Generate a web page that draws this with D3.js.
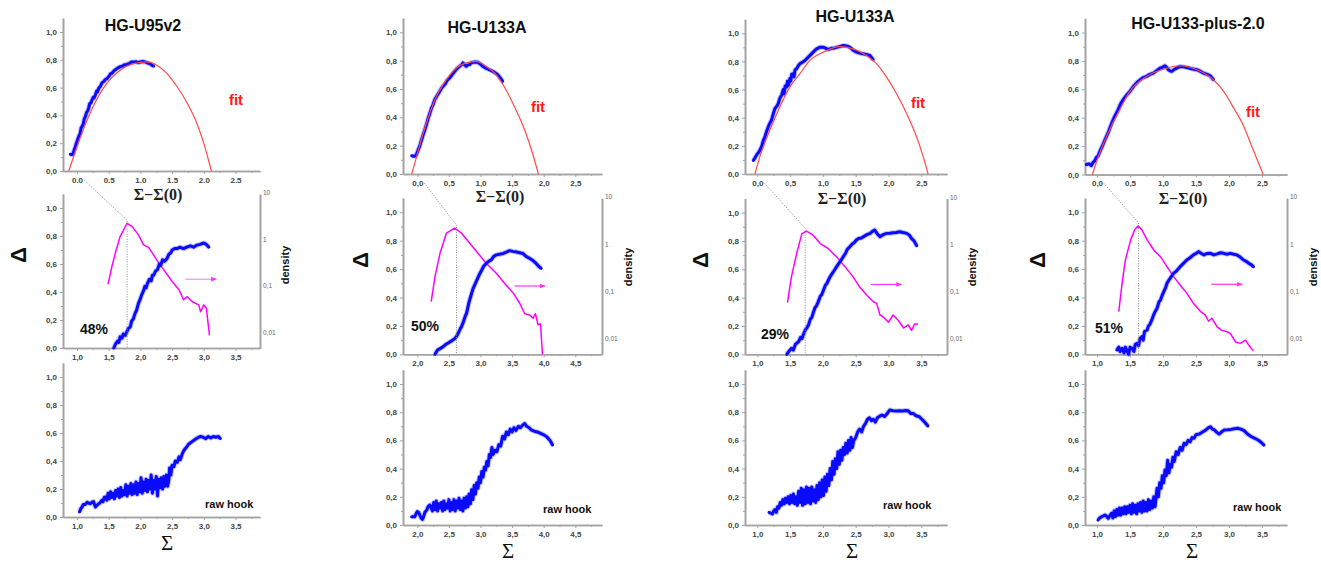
<!DOCTYPE html>
<html>
<head>
<meta charset="utf-8">
<script src="https://cdn.jsdelivr.net/npm/d3@7"></script>
<style>
  body { margin: 0; background: #fff; }
  svg { display: block; }
  .tick text { font-family: Arial, "Liberation Sans", sans-serif; font-weight: bold; font-size: 8px; fill: #444; }
</style>
</head>
<body>
<div id="chart"></div>
<script>
// ---- data ----
const titles = ['HG-U95v2', 'HG-U133A', 'HG-U133A', 'HG-U133-plus-2.0']
const percents = ['48%', '50%', '29%', '51%']

const yTicks = [0, 0.2, 0.4, 0.6, 0.8, 1.0]
const yMinor = [0.1, 0.3, 0.5, 0.7, 0.9]
const topXTicks = [0, 0.5, 1, 1.5, 2, 2.5]
const midXStart = [1.0, 2.0, 1.0, 1.0]
const densityTicks = [10, 1, 0.1, 0.01]
const densityLabels = ['10', '1', '0,1', '0,01']

// x of the density maximum (dotted guide) per column
const peakX = [1.79, 2.62, 1.73, 1.63]
// arrow pointing to density axis: [x from, x to, density]
const arrows = [[2.71, 3.2, 0.149], [3.54, 4.02, 0.139], [2.73, 3.2, 0.151], [2.73, 3.2, 0.151]]

// top row: hook vs Sigma-Sigma(0), blue data and red fit
const topBlue = [
  [[-0.105,0.12],[-0.085,0.118],[-0.063,0.122],[-0.045,0.15],[-0.026,0.175],[-0.01,0.2],[0.01,0.225],[0.026,0.247],[0.05,0.27],[0.065,0.31],[0.079,0.319],[0.1,0.34],[0.115,0.375],[0.132,0.391],[0.15,0.42],[0.165,0.43],[0.184,0.451],[0.2,0.485],[0.22,0.49],[0.237,0.511],[0.255,0.53],[0.27,0.525],[0.289,0.547],[0.31,0.575],[0.325,0.57],[0.342,0.595],[0.37,0.61],[0.395,0.635],[0.421,0.643],[0.45,0.66],[0.475,0.665],[0.5,0.679],[0.53,0.7],[0.555,0.705],[0.579,0.719],[0.61,0.73],[0.64,0.74],[0.684,0.751],[0.72,0.755],[0.75,0.765],[0.789,0.767],[0.83,0.775],[0.86,0.785],[0.895,0.784],[0.93,0.786],[0.96,0.78],[1.0,0.784],[1.04,0.788],[1.07,0.785],[1.105,0.779],[1.13,0.775],[1.158,0.77],[1.185,0.76],[1.21,0.755]],
  [[-0.089,0.129],[-0.055,0.125],[-0.021,0.129],[0.016,0.172],[0.04,0.2],[0.068,0.242],[0.095,0.28],[0.12,0.313],[0.145,0.35],[0.173,0.395],[0.2,0.43],[0.225,0.466],[0.25,0.49],[0.277,0.525],[0.31,0.55],[0.356,0.584],[0.39,0.61],[0.435,0.631],[0.47,0.66],[0.513,0.678],[0.55,0.7],[0.592,0.725],[0.63,0.745],[0.67,0.76],[0.7,0.77],[0.723,0.784],[0.75,0.77],[0.775,0.76],[0.8,0.77],[0.827,0.772],[0.855,0.785],[0.88,0.788],[0.92,0.79],[0.958,0.788],[1.0,0.775],[1.037,0.76],[1.08,0.748],[1.115,0.741],[1.16,0.732],[1.194,0.725],[1.23,0.715],[1.272,0.701],[1.31,0.68],[1.351,0.654]],
  [[-0.061,0.096],[-0.035,0.115],[-0.01,0.136],[0.03,0.16],[0.066,0.195],[0.09,0.235],[0.117,0.266],[0.14,0.3],[0.168,0.336],[0.19,0.36],[0.218,0.384],[0.245,0.43],[0.269,0.466],[0.295,0.48],[0.32,0.501],[0.345,0.54],[0.371,0.56],[0.395,0.6],[0.41,0.57],[0.425,0.625],[0.447,0.619],[0.46,0.66],[0.475,0.63],[0.497,0.678],[0.51,0.66],[0.525,0.71],[0.548,0.713],[0.56,0.69],[0.575,0.74],[0.599,0.748],[0.625,0.77],[0.65,0.784],[0.69,0.795],[0.726,0.807],[0.777,0.831],[0.827,0.854],[0.87,0.875],[0.904,0.889],[0.95,0.9],[1.005,0.901],[1.04,0.895],[1.081,0.885],[1.13,0.893],[1.183,0.896],[1.25,0.905],[1.31,0.913],[1.36,0.91],[1.411,0.901],[1.46,0.88],[1.513,0.866],[1.56,0.86],[1.614,0.854],[1.66,0.85],[1.716,0.842],[1.766,0.812]],
  [[-0.162,0.07],[-0.12,0.075],[-0.086,0.063],[-0.06,0.085],[-0.036,0.094],[-0.01,0.12],[0.015,0.129],[0.05,0.17],[0.091,0.211],[0.13,0.255],[0.168,0.293],[0.205,0.34],[0.244,0.386],[0.28,0.42],[0.32,0.457],[0.36,0.5],[0.396,0.527],[0.45,0.56],[0.497,0.585],[0.56,0.625],[0.624,0.656],[0.69,0.68],[0.751,0.691],[0.8,0.705],[0.853,0.714],[0.9,0.73],[0.954,0.749],[0.99,0.755],[1.03,0.766],[1.055,0.755],[1.081,0.738],[1.105,0.73],[1.132,0.726],[1.17,0.74],[1.208,0.749],[1.259,0.761],[1.31,0.758],[1.36,0.754],[1.43,0.745],[1.513,0.738],[1.56,0.728],[1.614,0.714],[1.67,0.705],[1.716,0.695],[1.766,0.667]]
]
const topFit = [
  [[-0.13,0],[0,0.175],[0.16,0.367],[0.32,0.522],[0.47,0.63],[0.68,0.725],[0.89,0.773],[1.1,0.785],[1.26,0.761],[1.42,0.701],[1.58,0.606],[1.74,0.487],[1.89,0.343],[2.0,0.199],[2.12,0]],
  [[-0.089,0],[-0.01,0.125],[0.094,0.289],[0.199,0.431],[0.304,0.548],[0.461,0.666],[0.618,0.748],[0.775,0.784],[0.932,0.795],[1.089,0.76],[1.246,0.701],[1.403,0.595],[1.56,0.454],[1.717,0.289],[1.822,0.148],[1.916,0]],
  [[-0.036,0],[0.04,0.125],[0.193,0.313],[0.345,0.478],[0.497,0.619],[0.65,0.713],[0.802,0.807],[1.005,0.866],[1.259,0.906],[1.462,0.889],[1.665,0.842],[1.817,0.784],[1.97,0.689],[2.122,0.572],[2.274,0.431],[2.426,0.266],[2.528,0.125],[2.604,0]],
  [[-0.071,0],[0.04,0.152],[0.193,0.316],[0.345,0.457],[0.497,0.585],[0.751,0.691],[1.005,0.742],[1.259,0.766],[1.513,0.738],[1.766,0.667],[1.919,0.585],[2.071,0.468],[2.223,0.34],[2.325,0.222],[2.426,0.105],[2.518,0]]
]

// middle row: corrected hook (blue) and density (magenta, right log axis)
const midBlue = [
  [[1.58,0.0],[1.61,0.03],[1.64,0.05],[1.66,0.04],[1.68,0.08],[1.71,0.07],[1.73,0.1],[1.76,0.09],[1.79,0.12],[1.81,0.14],[1.84,0.15],[1.86,0.19],[1.89,0.21],[1.91,0.24],[1.94,0.27],[1.97,0.32],[1.99,0.34],[2.02,0.38],[2.05,0.41],[2.07,0.44],[2.09,0.43],[2.11,0.46],[2.14,0.49],[2.17,0.48],[2.19,0.52],[2.21,0.52],[2.24,0.55],[2.27,0.56],[2.3,0.6],[2.32,0.59],[2.35,0.63],[2.38,0.62],[2.42,0.64],[2.45,0.67],[2.48,0.68],[2.5,0.7],[2.54,0.71],[2.58,0.71],[2.62,0.72],[2.68,0.71],[2.73,0.72],[2.79,0.73],[2.84,0.72],[2.89,0.735],[2.94,0.74],[3.0,0.75],[3.04,0.74],[3.08,0.72]],
  [[2.28,0.0],[2.32,0.03],[2.36,0.04],[2.41,0.054],[2.45,0.07],[2.49,0.08],[2.52,0.089],[2.56,0.1],[2.59,0.11],[2.62,0.125],[2.65,0.15],[2.68,0.18],[2.7,0.195],[2.73,0.23],[2.76,0.27],[2.78,0.29],[2.8,0.33],[2.82,0.37],[2.84,0.4],[2.86,0.43],[2.88,0.46],[2.9,0.48],[2.94,0.52],[2.98,0.56],[3.02,0.594],[3.05,0.62],[3.09,0.64],[3.13,0.655],[3.17,0.665],[3.21,0.69],[3.25,0.7],[3.3,0.705],[3.36,0.71],[3.41,0.72],[3.46,0.73],[3.51,0.725],[3.57,0.72],[3.62,0.715],[3.67,0.71],[3.72,0.69],[3.78,0.675],[3.83,0.66],[3.88,0.64],[3.92,0.62],[3.96,0.605]],
  [[1.45,0.0],[1.48,0.02],[1.52,0.042],[1.55,0.03],[1.58,0.07],[1.6,0.078],[1.63,0.09],[1.66,0.12],[1.68,0.11],[1.7,0.136],[1.73,0.17],[1.76,0.19],[1.78,0.207],[1.81,0.25],[1.83,0.26],[1.85,0.289],[1.88,0.33],[1.9,0.34],[1.93,0.372],[1.96,0.41],[1.98,0.42],[2.01,0.454],[2.04,0.49],[2.06,0.5],[2.09,0.53],[2.11,0.548],[2.14,0.57],[2.17,0.59],[2.21,0.619],[2.24,0.64],[2.27,0.66],[2.31,0.689],[2.34,0.71],[2.37,0.74],[2.41,0.76],[2.45,0.78],[2.48,0.79],[2.51,0.807],[2.55,0.82],[2.58,0.82],[2.62,0.831],[2.67,0.845],[2.72,0.854],[2.76,0.87],[2.79,0.878],[2.83,0.85],[2.87,0.831],[2.92,0.845],[2.97,0.854],[3.02,0.855],[3.07,0.859],[3.12,0.86],[3.17,0.866],[3.22,0.86],[3.28,0.854],[3.32,0.84],[3.35,0.819],[3.39,0.8],[3.43,0.767]],
  [[1.3,0.03],[1.33,0.05],[1.35,0.02],[1.38,0.042],[1.41,0.01],[1.43,0.05],[1.45,0.03],[1.48,0.0],[1.5,0.05],[1.53,0.042],[1.56,0.02],[1.58,0.07],[1.61,0.077],[1.63,0.06],[1.65,0.11],[1.68,0.124],[1.7,0.1],[1.72,0.16],[1.76,0.171],[1.78,0.2],[1.8,0.21],[1.83,0.242],[1.86,0.28],[1.88,0.3],[1.91,0.324],[1.94,0.37],[1.96,0.38],[1.98,0.406],[2.01,0.44],[2.04,0.47],[2.06,0.5],[2.1,0.53],[2.13,0.55],[2.16,0.57],[2.21,0.59],[2.26,0.617],[2.31,0.64],[2.36,0.664],[2.41,0.68],[2.46,0.7],[2.5,0.71],[2.54,0.723],[2.58,0.71],[2.62,0.7],[2.67,0.71],[2.72,0.711],[2.77,0.7],[2.82,0.707],[2.87,0.715],[2.92,0.711],[2.97,0.705],[3.02,0.711],[3.07,0.705],[3.12,0.7],[3.17,0.685],[3.22,0.664],[3.26,0.655],[3.3,0.641],[3.34,0.63],[3.37,0.617]]
]
const midDensity = [
  [[1.49,0.116],[1.55,0.278],[1.61,0.58],[1.68,1.22],[1.79,2.36],[1.87,2.0],[1.97,1.33],[2.05,0.81],[2.13,0.72],[2.21,0.49],[2.29,0.33],[2.39,0.217],[2.5,0.133],[2.61,0.088],[2.68,0.054],[2.74,0.063],[2.82,0.049],[2.92,0.042],[2.95,0.03],[3.0,0.042],[3.04,0.036],[3.09,0.0093]],
  [[2.22,0.065],[2.28,0.219],[2.36,0.684],[2.46,1.81],[2.59,2.31],[2.7,1.81],[2.83,1.11],[2.96,0.684],[3.09,0.42],[3.25,0.258],[3.38,0.158],[3.52,0.098],[3.62,0.06],[3.7,0.036],[3.78,0.034],[3.83,0.029],[3.87,0.036],[3.91,0.021],[3.95,0.022],[3.98,0.005]],
  [[1.46,0.062],[1.52,0.219],[1.6,0.684],[1.68,1.81],[1.75,2.03],[1.85,1.67],[1.96,1.11],[2.08,0.873],[2.21,0.58],[2.34,0.356],[2.46,0.219],[2.56,0.134],[2.67,0.089],[2.77,0.065],[2.82,0.06],[2.87,0.034],[2.92,0.031],[3.0,0.024],[3.07,0.034],[3.15,0.026],[3.23,0.018],[3.3,0.021],[3.35,0.016],[3.4,0.022],[3.45,0.022]],
  [[1.33,0.04],[1.38,0.158],[1.43,0.493],[1.51,1.31],[1.57,2.13],[1.62,2.59],[1.68,2.13],[1.76,1.31],[1.86,0.8],[1.96,0.58],[2.06,0.356],[2.16,0.219],[2.26,0.146],[2.36,0.098],[2.46,0.06],[2.57,0.04],[2.64,0.034],[2.69,0.025],[2.74,0.029],[2.82,0.019],[2.89,0.016],[2.97,0.015],[3.02,0.0138],[3.1,0.0091],[3.17,0.0085],[3.25,0.01],[3.3,0.0078],[3.37,0.0059]]
]

// bottom row: raw hook vs Sigma
const rawHook = [
  [[1.04,0.036],[1.06,0.06],[1.08,0.071],[1.1,0.09],[1.13,0.09],[1.16,0.105],[1.18,0.1],[1.21,0.095],[1.24,0.107],[1.26,0.11],[1.29,0.071],[1.31,0.08],[1.34,0.095],[1.36,0.1],[1.39,0.119],[1.41,0.11],[1.43,0.14],[1.45,0.143],
   [1.47,0.12],[1.49,0.17],[1.51,0.13],[1.53,0.18],[1.55,0.14],[1.57,0.17],[1.59,0.13],[1.61,0.19],[1.63,0.15],[1.65,0.2],[1.67,0.14],[1.69,0.21],[1.71,0.15],[1.73,0.19],[1.75,0.16],[1.77,0.23],[1.79,0.15],[1.81,0.22],[1.83,0.17],[1.85,0.24],[1.87,0.16],[1.89,0.23],[1.91,0.17],[1.93,0.25],[1.95,0.16],[1.97,0.24],[1.99,0.18],[2.01,0.28],[2.03,0.17],[2.05,0.25],[2.07,0.19],[2.09,0.27],[2.11,0.18],[2.13,0.26],[2.15,0.2],[2.17,0.3],[2.19,0.17],[2.21,0.26],[2.23,0.2],[2.25,0.29],[2.27,0.15],[2.29,0.27],[2.31,0.21],[2.33,0.28],[2.35,0.2],[2.37,0.29],[2.39,0.22],[2.41,0.3],[2.43,0.22],[2.45,0.27],
   [2.46,0.35],[2.48,0.3],[2.5,0.37],[2.53,0.36],[2.55,0.4],[2.58,0.39],[2.61,0.43],[2.63,0.41],[2.66,0.45],[2.68,0.47],[2.71,0.49],[2.73,0.5],[2.76,0.52],[2.79,0.53],[2.82,0.54],[2.85,0.55],[2.88,0.56],[2.92,0.57],[2.95,0.575],[2.99,0.57],[3.03,0.56],[3.07,0.575],[3.11,0.565],[3.15,0.575],[3.19,0.57],[3.23,0.575],[3.26,0.56]],
  [[1.91,0.059],[1.96,0.059],[1.98,0.08],[2.0,0.095],[2.02,0.09],[2.04,0.071],[2.06,0.05],[2.08,0.04],[2.1,0.06],[2.12,0.09],[2.15,0.106],[2.17,0.13],[2.2,0.142],[2.22,0.12],
   [2.24,0.1],[2.26,0.16],[2.28,0.11],[2.3,0.17],[2.32,0.1],[2.34,0.15],[2.36,0.12],[2.38,0.16],[2.4,0.1],[2.42,0.17],[2.44,0.11],[2.46,0.15],[2.48,0.12],[2.5,0.18],[2.52,0.1],[2.54,0.16],[2.56,0.11],[2.58,0.18],[2.6,0.1],[2.62,0.17],[2.64,0.12],[2.66,0.19],[2.68,0.11],[2.7,0.17],[2.72,0.1],[2.74,0.19],[2.76,0.12],[2.78,0.2],[2.8,0.13],[2.82,0.22],[2.84,0.15],[2.86,0.25],[2.88,0.18],[2.9,0.28],[2.92,0.22],[2.94,0.3],[2.96,0.26],[2.98,0.34],[3.0,0.3],[3.02,0.38],[3.04,0.34],[3.06,0.41],[3.08,0.39],[3.1,0.45],[3.12,0.42],[3.14,0.5],[3.16,0.48],[3.18,0.55],[3.2,0.5],
   [3.23,0.53],[3.26,0.52],[3.29,0.57],[3.32,0.56],[3.35,0.63],[3.38,0.61],[3.41,0.66],[3.44,0.64],[3.47,0.68],[3.5,0.66],[3.53,0.69],[3.56,0.67],[3.6,0.7],[3.63,0.69],[3.67,0.71],[3.7,0.72],[3.73,0.7],[3.77,0.69],[3.8,0.675],[3.85,0.665],[3.9,0.66],[3.95,0.65],[4.0,0.64],[4.05,0.625],[4.1,0.6],[4.14,0.567]],
  [[1.18,0.09],[1.2,0.085],[1.23,0.078],[1.25,0.1],[1.27,0.11],[1.29,0.09],[1.31,0.13],[1.33,0.12],[1.35,0.16],[1.37,0.14],[1.39,0.18],[1.41,0.15],[1.43,0.19],[1.45,0.16],
   [1.47,0.2],[1.49,0.15],[1.51,0.21],[1.53,0.16],[1.55,0.22],[1.57,0.15],[1.59,0.2],[1.61,0.14],[1.63,0.24],[1.65,0.16],[1.67,0.26],[1.69,0.14],[1.71,0.25],[1.73,0.15],[1.75,0.27],[1.77,0.16],[1.79,0.26],[1.81,0.15],[1.83,0.27],[1.85,0.17],[1.87,0.25],[1.89,0.16],[1.91,0.28],[1.93,0.18],[1.95,0.3],[1.97,0.2],[1.99,0.32],[2.01,0.21],[2.03,0.34],[2.05,0.24],[2.07,0.36],[2.09,0.28],[2.11,0.4],[2.13,0.32],[2.15,0.45],[2.17,0.36],[2.19,0.47],[2.21,0.4],[2.23,0.52],[2.25,0.43],[2.27,0.53],[2.29,0.46],[2.31,0.55],[2.33,0.5],[2.35,0.58],[2.37,0.51],[2.39,0.6],[2.41,0.53],[2.43,0.62],[2.45,0.55],
   [2.47,0.6],[2.5,0.62],[2.53,0.66],[2.56,0.68],[2.59,0.66],[2.62,0.7],[2.65,0.72],[2.68,0.75],[2.71,0.76],[2.74,0.74],[2.77,0.75],[2.8,0.73],[2.83,0.76],[2.86,0.77],[2.9,0.78],[2.94,0.77],[2.98,0.79],[3.02,0.816],[3.07,0.81],[3.12,0.809],[3.17,0.81],[3.22,0.809],[3.26,0.812],[3.3,0.81],[3.34,0.79],[3.38,0.79],[3.42,0.775],[3.47,0.768],[3.52,0.745],[3.56,0.725],[3.6,0.702]],
  [[1.015,0.035],[1.04,0.05],[1.07,0.059],[1.1,0.065],[1.12,0.071],[1.15,0.06],[1.17,0.047],[1.2,0.07],[1.22,0.083],[1.24,0.05],
   [1.26,0.1],[1.28,0.06],[1.3,0.11],[1.32,0.07],[1.34,0.12],[1.36,0.07],[1.38,0.12],[1.4,0.08],[1.42,0.13],[1.44,0.08],[1.46,0.13],[1.48,0.09],[1.5,0.14],[1.52,0.08],[1.54,0.15],[1.56,0.09],[1.58,0.14],[1.6,0.08],[1.62,0.15],[1.64,0.1],[1.66,0.16],[1.68,0.09],[1.7,0.17],[1.72,0.1],[1.74,0.16],[1.76,0.1],[1.78,0.18],[1.8,0.11],[1.82,0.17],[1.84,0.12],[1.86,0.2],[1.88,0.13],[1.9,0.22],[1.91,0.26],[1.93,0.2],[1.95,0.3],[1.97,0.26],[1.99,0.35],[2.01,0.3],[2.03,0.39],[2.05,0.35],[2.07,0.46],[2.09,0.37],[2.11,0.43],[2.13,0.41],[2.15,0.48],[2.17,0.45],
   [2.2,0.52],[2.23,0.5],[2.26,0.55],[2.29,0.53],[2.32,0.58],[2.35,0.57],[2.38,0.6],[2.41,0.59],[2.44,0.62],[2.47,0.615],[2.5,0.64],[2.55,0.645],[2.6,0.66],[2.65,0.674],[2.69,0.69],[2.72,0.697],[2.75,0.68],[2.78,0.674],[2.82,0.655],[2.85,0.645],[2.9,0.665],[2.93,0.674],[2.98,0.675],[3.03,0.678],[3.08,0.683],[3.13,0.686],[3.18,0.68],[3.23,0.669],[3.28,0.645],[3.34,0.626],[3.39,0.615],[3.44,0.603],[3.49,0.585],[3.53,0.567]]
]

// ---- layout (pixels) ----
let cols = [
  { left: 63, right: 260, x0px: 77, ppu: 63.4, dot: '.',
    rows: [{ y0: 171, ppu: 139 }, { y0: 348, ppu: 140 }, { y0: 517, ppu: 140 }],
    title: [143, 31], fit: [236, 105], sig0: [158, 200], delta: [18, 255], dens: [285, 265], pct: [80, 334], raw: [205, 508], sig: [167, 550] },
  { left: 403, right: 602, x0px: 417.3, ppu: 63.2, dot: ',',
    rows: [{ y0: 174, ppu: 141.7 }, { y0: 354.3, ppu: 142 }, { y0: 525, ppu: 141 }],
    title: [487, 33], fit: [538, 112], sig0: [500, 202], delta: [360, 260], dens: [628, 267], pct: [411, 331], raw: [543, 513], sig: [508, 558] },
  { left: 745, right: 947, x0px: 757.3, ppu: 65.6, dot: ',',
    rows: [{ y0: 174, ppu: 140.7 }, { y0: 354.3, ppu: 141.6 }, { y0: 525, ppu: 141 }],
    title: [855, 22], fit: [918, 108], sig0: [842, 204], delta: [700, 260], dens: [972, 267], pct: [761, 339], raw: [883, 509], sig: [852, 558] },
  { left: 1085, right: 1287, x0px: 1097, ppu: 66, dot: ',',
    rows: [{ y0: 174.5, ppu: 142 }, { y0: 354.3, ppu: 142 }, { y0: 525, ppu: 141 }],
    title: [1198, 29], fit: [1253, 117], sig0: [1183, 204], delta: [1037, 260], dens: [1313, 267], pct: [1095, 333], raw: [1233, 511], sig: [1192, 558] }
]

const W = 1321, H = 562
const axisColor = '#a3a3a3'
const blue = '#0a0aff'

let svg = d3.select('#chart').append('svg')
  .attr('width', W)
  .attr('height', H)
  .style('font-family', 'Arial, "Liberation Sans", sans-serif')

let defs = svg.append('defs')
defs.append('marker')
  .attr('id', 'arrowHead')
  .attr('viewBox', '0 0 10 10')
  .attr('refX', 9).attr('refY', 5)
  .attr('markerWidth', 5).attr('markerHeight', 5)
  .attr('orient', 'auto')
  .append('path')
  .attr('d', 'M0,1 L10,5 L0,9 Z')
  .attr('fill', '#ff33ff')

function fmt(sep) {
  return d => d3.format('.1f')(d).replace('.', sep)
}

function drawPanel(c, row, xStart, sep) {
  let g = svg.append('g')
  let x = d3.scaleLinear()
    .domain([xStart + (c.left - c.x0px) / c.ppu, xStart + (c.right - c.x0px) / c.ppu])
    .range([c.left, c.right])
  let y = d3.scaleLinear()
    .domain([0, 1.1])
    .range([row.y0, row.y0 - 1.1 * row.ppu])

  let xMajor = d3.range(6).map(i => xStart + i * 0.5)
  let xMinor = d3.range(7).map(i => xStart - 0.25 + i * 0.5)

  // minor ticks
  g.append('g')
    .attr('transform', `translate(0, ${row.y0})`)
    .call(d3.axisBottom(x).tickValues(xMinor.filter(v => x(v) > c.left)).tickSize(2).tickSizeOuter(0).tickFormat(''))
  g.append('g')
    .attr('transform', `translate(${c.left}, 0)`)
    .call(d3.axisLeft(y).tickValues(yMinor).tickSize(2).tickSizeOuter(0).tickFormat(''))
  // major ticks
  g.append('g')
    .attr('transform', `translate(0, ${row.y0})`)
    .call(d3.axisBottom(x).tickValues(xMajor).tickSize(3).tickSizeOuter(0).tickPadding(3).tickFormat(fmt(sep)))
  g.append('g')
    .attr('transform', `translate(${c.left}, 0)`)
    .call(d3.axisLeft(y).tickValues(yTicks).tickSize(3).tickSizeOuter(0).tickPadding(3).tickFormat(fmt(',')))

  g.selectAll('.domain').attr('stroke', axisColor).attr('stroke-width', 1.6)
  g.selectAll('.tick line').attr('stroke', axisColor).attr('stroke-width', 1)

  return { g: g, x: x, y: y }
}

function blueLine(g, pts, x, y) {
  let line = d3.line().x(d => x(d[0])).y(d => y(d[1]))
  g.append('path').datum(pts)
    .attr('d', line)
    .attr('fill', 'none')
    .attr('stroke', '#6f6fff')
    .attr('stroke-opacity', 0.45)
    .attr('stroke-width', 5)
    .attr('stroke-linejoin', 'round')
  g.append('path').datum(pts)
    .attr('d', line)
    .attr('fill', 'none')
    .attr('stroke', blue)
    .attr('stroke-width', 3)
    .attr('stroke-linejoin', 'round')
    .attr('stroke-linecap', 'round')
}

cols.forEach((c, i) => {
  // ---- top: Delta vs Sigma - Sigma(0) with fit ----
  let top = drawPanel(c, c.rows[0], 0, c.dot)
  blueLine(top.g, topBlue[i], top.x, top.y)
  top.g.append('path').datum(topFit[i])
    .attr('d', d3.line().x(d => top.x(d[0])).y(d => top.y(d[1])).curve(d3.curveMonotoneX))
    .attr('fill', 'none')
    .attr('stroke', '#ff4a4a')
    .attr('stroke-width', 1.2)

  // ---- middle: corrected hook + density ----
  let mid = drawPanel(c, c.rows[1], midXStart[i], ',')
  let dens = d3.scaleLog()
    .domain([0.005, 10])
    .range([c.rows[1].y0, c.rows[1].y0 - 1.1 * c.rows[1].ppu])

  let right = mid.g.append('g')
    .attr('transform', `translate(${c.right}, 0)`)
    .call(d3.axisRight(dens).tickValues(densityTicks).tickSize(0).tickSizeOuter(0).tickPadding(3)
      .tickFormat((d, k) => densityLabels[k]))
  right.select('.domain').attr('stroke', axisColor).attr('stroke-width', 2)
  right.selectAll('.tick text')
    .style('font-weight', 'normal')
    .style('font-size', '6.5px')
    .style('fill', '#666')
    .attr('dy', '0.1em')

  // dotted guide from top axis origin to the density maximum
  let peakPx = mid.x(peakX[i])
  let peakDens = midDensity[i].reduce((a, b) => (b[1] > a[1] ? b : a))
  let peakPy = dens(peakDens[1]) - 3
  svg.append('path')
    .attr('d', `M${top.x(0) + 7},${c.rows[0].y0 + 9} L${peakPx},${peakPy} L${peakPx},${c.rows[1].y0}`)
    .attr('fill', 'none')
    .attr('stroke', '#8a8a8a')
    .attr('stroke-width', 1)
    .attr('stroke-dasharray', '1,1.5')

  mid.g.append('path').datum(midDensity[i])
    .attr('d', d3.line().x(d => mid.x(d[0])).y(d => dens(d[1])))
    .attr('fill', 'none')
    .attr('stroke', '#ff00ff')
    .attr('stroke-width', 1.5)
    .attr('stroke-linejoin', 'round')

  blueLine(mid.g, midBlue[i], mid.x, mid.y)

  let a = arrows[i]
  mid.g.append('line')
    .attr('x1', mid.x(a[0])).attr('x2', mid.x(a[1]))
    .attr('y1', dens(a[2])).attr('y2', dens(a[2]))
    .attr('stroke', i === 0 ? '#e29ae2' : '#ff33ff')
    .attr('stroke-width', 1.2)
    .attr('marker-end', 'url(#arrowHead)')

  // ---- bottom: raw hook ----
  let bot = drawPanel(c, c.rows[2], midXStart[i], ',')
  blueLine(bot.g, rawHook[i], bot.x, bot.y)

  // ---- texts ----
  svg.append('text')
    .attr('x', c.title[0]).attr('y', c.title[1])
    .attr('text-anchor', 'middle')
    .style('font-size', '16px').style('font-weight', 'bold').style('fill', '#111')
    .text(titles[i])
  svg.append('text')
    .attr('x', c.fit[0]).attr('y', c.fit[1])
    .attr('text-anchor', 'middle')
    .style('font-size', '15px').style('font-weight', 'bold').style('fill', '#ff1a1a')
    .text('fit')
  svg.append('text')
    .attr('x', c.sig0[0]).attr('y', c.sig0[1])
    .attr('text-anchor', 'middle')
    .style('font-family', '"Liberation Serif", "DejaVu Serif", serif')
    .style('font-size', '16px').style('font-weight', 'bold').style('fill', '#222')
    .text('Σ−Σ(0)')
  svg.append('text')
    .attr('transform', `translate(${c.delta[0]}, ${c.delta[1]}) rotate(-90)`)
    .attr('text-anchor', 'middle')
    .attr('dominant-baseline', 'central')
    .style('font-size', '22px').style('font-weight', 'bold').style('fill', '#111')
    .text('Δ')
  svg.append('text')
    .attr('transform', `translate(${c.dens[0]}, ${c.dens[1]}) rotate(-90)`)
    .attr('text-anchor', 'middle')
    .attr('dominant-baseline', 'central')
    .style('font-size', '11px').style('font-weight', 'bold').style('fill', '#111')
    .text('density')
  svg.append('text')
    .attr('x', c.pct[0]).attr('y', c.pct[1])
    .style('font-size', '14px').style('font-weight', 'bold').style('fill', '#111')
    .text(percents[i])
  svg.append('text')
    .attr('x', c.raw[0]).attr('y', c.raw[1])
    .style('font-size', '11px').style('font-weight', 'bold').style('fill', '#111')
    .text('raw hook')
  svg.append('text')
    .attr('x', c.sig[0]).attr('y', c.sig[1])
    .attr('text-anchor', 'middle')
    .style('font-family', '"Liberation Serif", "DejaVu Serif", serif')
    .style('font-size', '21px').style('fill', '#111')
    .text('Σ')
})
</script>
</body>
</html>
